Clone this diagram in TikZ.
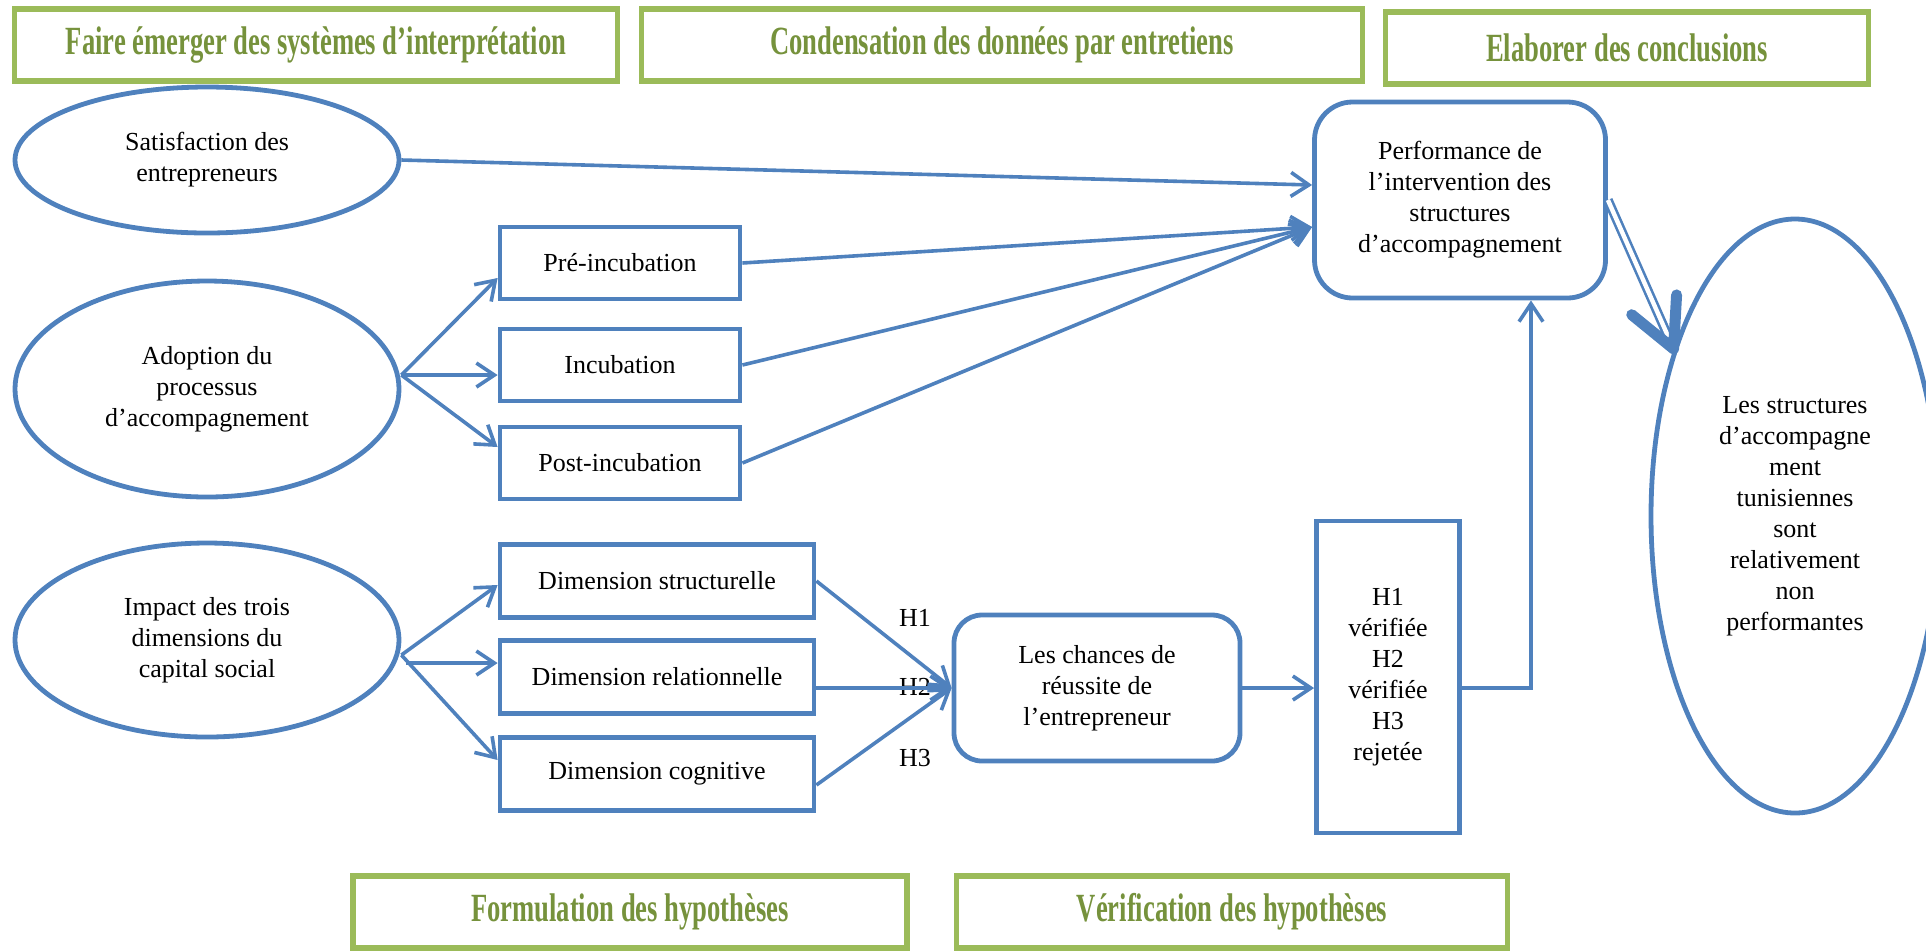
\documentclass[tikz,border=0pt]{standalone}
\usepackage{fontspec}
\setmainfont{Liberation Serif}
\newfontfamily\headfont[FakeStretch=0.665]{Liberation Serif}
\usepackage{tikz}
\usepackage{xcolor}
\usetikzlibrary{arrows.meta,shapes,calc}
\definecolor{boxblue}{HTML}{4F81BD}
\definecolor{phasegreen}{HTML}{9BBB59}
\definecolor{phasetext}{HTML}{76923C}

\begin{document}
\begin{tikzpicture}[x=0.5pt,y=-0.5pt,
every node/.style={font=\fontsize{13}{15.5}\selectfont,align=center,inner sep=0pt},
phase/.style={draw=phasegreen,line width=2.6pt,minimum height=36pt,text=phasetext,font=\headfont\fontsize{20}{24}\selectfont\bfseries},
oval/.style={ellipse,draw=boxblue,line width=2.4pt},
box/.style={rectangle,draw=boxblue,line width=2.4pt},
link/.style={draw=boxblue,line width=1.8pt,-{Straight Barb[length=9pt,width=12pt]}}]
\useasboundingbox (0,0) rectangle (1926,950);
\node[phase,minimum width=301.5pt](faire)at(316,45){Faire émerger des systèmes d’interprétation};
\node[phase,minimum width=360.5pt](conden)at(1002,45){Condensation des données par entretiens};
\node[phase,minimum width=241.5pt](elab)at(1627,48){Elaborer des conclusions};
\node[phase,minimum width=277pt](formul)at(630,912){Formulation des hypothèses};
\node[phase,minimum width=275.5pt](verif)at(1232,912){Vérification des hypothèses};

\node[oval,minimum width=192pt,minimum height=73pt](satis)at(207,160){Satisfaction des\\entrepreneurs};
\node[oval,minimum width=192pt,minimum height=108pt](adopt)at(207,389){Adoption du\\processus\\d’accompagnement};
\node[oval,minimum width=192pt,minimum height=97pt](impact)at(207,640){Impact des trois\\dimensions du\\capital social};

\node[box,minimum width=120pt,minimum height=36pt](preinc)at(620,263){Pré-incubation};
\node[box,minimum width=120pt,minimum height=36pt](incub)at(620,365){Incubation};
\node[box,minimum width=120pt,minimum height=36pt](postinc)at(620,463){Post-incubation};
\node[box,minimum width=157pt,minimum height=36.5pt](dstruct)at(657,581){Dimension structurelle};
\node[box,minimum width=157pt,minimum height=36.5pt](drel)at(657,677){Dimension relationnelle};
\node[box,minimum width=157pt,minimum height=36.5pt](dcog)at(657,774){Dimension cognitive};

\node[box,rounded corners=14pt,minimum width=143pt,minimum height=73pt](chances)at(1097,688){Les chances de\\réussite de\\l’entrepreneur};
\node[box,minimum width=71.5pt,minimum height=156pt](verdict)at(1388,677){H1\\vérifiée\\H2\\vérifiée\\H3\\rejetée};
\node[box,rounded corners=19pt,minimum width=145.5pt,minimum height=98pt](perf)at(1460,200){Performance de\\l’intervention des\\structures\\d’accompagnement};
\node[oval,minimum width=144pt,minimum height=297pt](concl)at(1795,516){Les structures\\d’accompagne\\ment\\tunisiennes\\sont\\relativement\\non\\performantes};

\node(hone)at(915,618){H1};
\node(htwo)at(915,687){H2};
\node(hthree)at(915,758){H3};

\draw[link](satis.east)--($(perf.west)+(0,-15)$);
\foreach \n in {preinc,incub,postinc}
\draw[link](\n.east)--($(perf.west)+(0,27)$);
\draw[link]($(adopt.east)+(0,-14)$)--($(preinc.west)+(0,15)$);
\draw[link]($(adopt.east)+(0,-14)$)--($(incub.west)+(0,10)$);
\draw[link]($(adopt.east)+(0,-14)$)--($(postinc.west)+(0,-16)$);
\draw[link]($(impact.east)+(0,15)$)--($(dstruct.west)+(0,4)$);
\draw[link]($(impact.east)+(5,23)$)--($(drel.west)+(0,-14)$);
\draw[link]($(impact.east)+(0,15)$)--($(dcog.west)+(0,-14)$);
\draw[link](dstruct.east)--(chances.west);
\draw[link](chances.west-|drel.east)--(chances.west);
\draw[link]($(dcog.east)+(0,11)$)--(chances.west);
\draw[link](chances.east)--(chances.east-|verdict.west);
\draw[link](chances.east-|verdict.east)-|($(perf.south)+(71,0)$);
\coordinate(ctip)at(concl.126);
\draw[boxblue,line width=1.3pt,double=white,double distance=2.2pt,shorten >=3pt](perf.east)--(ctip);
\draw[boxblue,line width=5.5pt,line cap=round,line join=round]($(ctip)!27pt!27:(perf.east)$)--(ctip)--($(ctip)!27pt!-27:(perf.east)$);
\end{tikzpicture}
\end{document}
